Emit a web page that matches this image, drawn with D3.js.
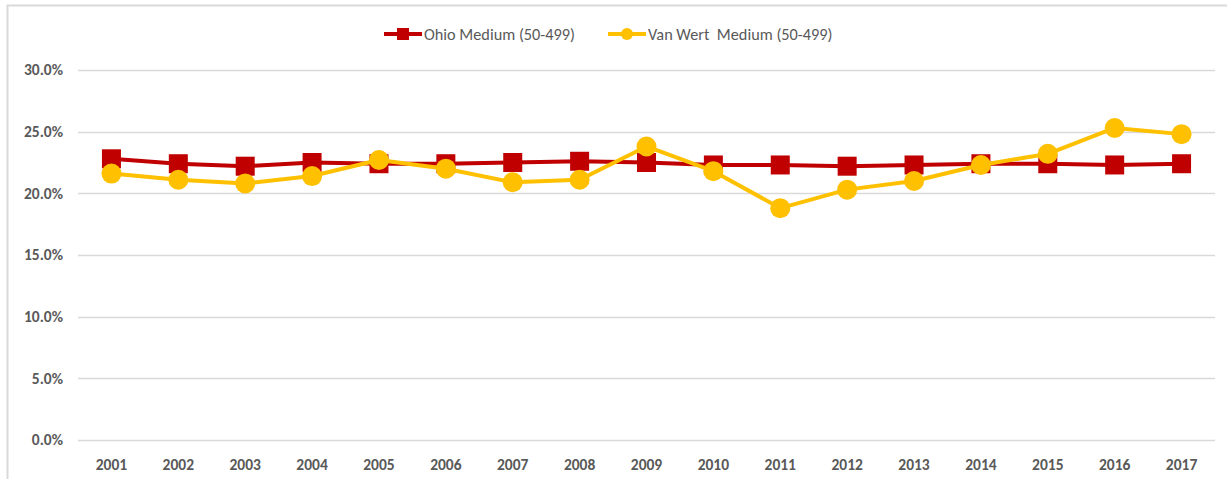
<!DOCTYPE html>
<html>
<head>
<meta charset="utf-8">
<script src="https://cdn.jsdelivr.net/npm/d3@7"></script>
<style>
  html, body { margin: 0; padding: 0; background: #fff; }
  svg { display: block; font-family: Carlito, "Open Sans", "Liberation Sans", sans-serif; }
</style>
</head>
<body>
<svg id="chart" width="1227" height="479"></svg>
<script>
'use strict';

var years = ['2001', '2002', '2003', '2004', '2005', '2006', '2007', '2008', '2009',
             '2010', '2011', '2012', '2013', '2014', '2015', '2016', '2017'];

var ohioMedium = [22.8, 22.4, 22.2, 22.5, 22.4, 22.4, 22.5, 22.6, 22.5,
                  22.3, 22.3, 22.2, 22.3, 22.4, 22.4, 22.3, 22.4];

var vanWertMedium = [21.6, 21.1, 20.8, 21.4, 22.7, 22.0, 20.9, 21.1, 23.8,
                     21.8, 18.8, 20.3, 21.0, 22.3, 23.2, 25.3, 24.8];

var yTicks = [0, 5, 10, 15, 20, 25, 30];

var seriesNames = ['Ohio Medium (50-499)', 'Van Wert  Medium (50-499)'];

var svg = d3.select('#chart'),
    x,
    y,
    series,
    plot,
    legend;

// chart frame, cut off at the right and bottom
svg.append('path')
    .attr('d', 'M 7.5 479 L 7.5 5.5 L 1227 5.5')
    .attr('fill', 'none')
    .attr('stroke', '#d9d9d9')
    .attr('stroke-width', 2);

// title sits above the crop, only descenders show
svg.append('text')
    .attr('x', 182)
    .attr('y', -4)
    .attr('font-size', 26)
    .attr('font-weight', 'bold')
    .attr('fill', '#000')
    .text('Employment Share');

x = d3.scaleBand()
    .domain(years)
    .range([78, 1215]);

y = d3.scaleLinear()
    .domain([0, 30])
    .range([440, 70]);

// gridlines
svg.append('g')
    .selectAll('line')
    .data(yTicks)
    .enter().append('line')
    .attr('x1', 78)
    .attr('x2', 1215)
    .attr('y1', function (d) { return Math.round(y(d)) + 0.5; })
    .attr('y2', function (d) { return Math.round(y(d)) + 0.5; })
    .attr('stroke', '#d9d9d9')
    .attr('stroke-width', 1.5);

// y axis labels
svg.append('g')
    .selectAll('text')
    .data(yTicks)
    .enter().append('text')
    .attr('x', 63)
    .attr('y', function (d) { return y(d); })
    .attr('dy', '0.35em')
    .attr('text-anchor', 'end')
    .attr('font-size', 15.5)
    .attr('font-weight', 'bold')
    .attr('fill', '#595959')
    .text(function (d) { return d.toFixed(1) + '%'; });

// x axis labels
svg.append('g')
    .selectAll('text')
    .data(years)
    .enter().append('text')
    .attr('x', function (d) { return x(d) + x.bandwidth() / 2; })
    .attr('y', 465)
    .attr('dy', '0.35em')
    .attr('text-anchor', 'middle')
    .attr('font-size', 15.5)
    .attr('font-weight', 'bold')
    .attr('fill', '#595959')
    .text(function (d) { return d; });

series = [
  {name: seriesNames[0], values: ohioMedium, color: '#c00000', marker: 'square'},
  {name: seriesNames[1], values: vanWertMedium, color: '#ffc000', marker: 'circle'}
];

var line = d3.line()
    .x(function (d, i) { return x(years[i]) + x.bandwidth() / 2; })
    .y(function (d) { return y(d); });

function drawMarker(g, s, cx, cy) {
  if (s.marker === 'square') {
    g.append('rect')
        .attr('x', cx - 9.5)
        .attr('y', cy - 9.5)
        .attr('width', 19)
        .attr('height', 19)
        .attr('fill', s.color);
  } else {
    g.append('circle')
        .attr('cx', cx)
        .attr('cy', cy)
        .attr('r', 10)
        .attr('fill', s.color);
  }
}

series.forEach(function (s) {
  plot = svg.append('g');
  plot.append('path')
      .attr('d', line(s.values))
      .attr('fill', 'none')
      .attr('stroke', s.color)
      .attr('stroke-width', 4)
      .attr('stroke-linejoin', 'round');
  s.values.forEach(function (v, i) {
    drawMarker(plot, s, x(years[i]) + x.bandwidth() / 2, y(v));
  });
});

// legend
legend = svg.append('g');
[384, 608].forEach(function (lx, i) {
  var s = series[i];
  legend.append('line')
      .attr('x1', lx)
      .attr('x2', lx + 38)
      .attr('y1', 34)
      .attr('y2', 34)
      .attr('stroke', s.color)
      .attr('stroke-width', 4);
  if (s.marker === 'square') {
    legend.append('rect')
        .attr('x', lx + 19 - 6)
        .attr('y', 34 - 6)
        .attr('width', 12)
        .attr('height', 12)
        .attr('fill', s.color);
  } else {
    legend.append('circle')
        .attr('cx', lx + 19)
        .attr('cy', 34)
        .attr('r', 6)
        .attr('fill', s.color);
  }
  legend.append('text')
      .attr('x', lx + 40)
      .attr('y', 34)
      .attr('dy', '0.35em')
      .attr('font-size', 16.3)
      .attr('fill', '#595959')
      .attr('xml:space', 'preserve')
      .style('white-space', 'pre')
      .text(s.name);
});
</script>
</body>
</html>
